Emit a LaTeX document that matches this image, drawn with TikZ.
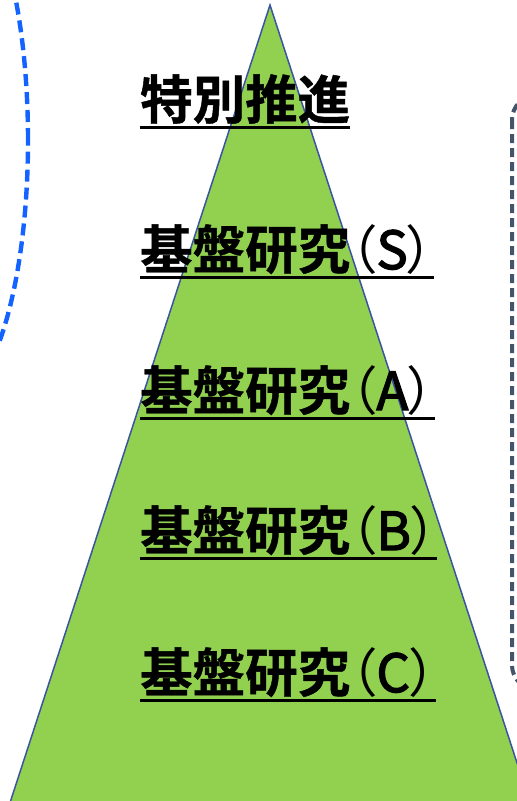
\documentclass[tikz,border=0pt]{standalone}
\usepackage{fontspec}
\newfontfamily\cjk{Noto Sans CJK JP}[BoldFont={Noto Sans CJK JP Bold}, BoldFeatures={FakeBold=0.8}, RawFeature=+palt]
\newfontfamily\cjkm{Noto Sans CJK JP}[FakeBold=2.5, RawFeature=+palt]
\newfontfamily\cjkr{Noto Sans CJK JP}[RawFeature=+palt]
\definecolor{trifill}{HTML}{92D050}
\definecolor{triline}{HTML}{3A54A0}
\definecolor{leftarc}{HTML}{1462FF}
\definecolor{rightarc}{HTML}{44546A}
\newcommand{\paren}[1]{{\cjkr\mdseries （}{\cjkm\mdseries #1}{\cjkr\mdseries ）}}
\tikzset{
  lbl/.style={anchor=base west, inner sep=0pt, font=\cjk\bfseries\fontsize{52.5pt}{52.5pt}\selectfont, text=black},
  ul/.style={line width=3pt, black},
}
\begin{document}
\begin{tikzpicture}[x=1pt,y=-1pt]
\useasboundingbox (0,0) rectangle (517,801);
\clip (0,0) rectangle (517,801);
% triangle
\draw[fill=trifill, draw=triline, line width=1.5pt] (270,5) -- (534,815) -- (6,815) -- cycle;
% left dashed arc
\draw[leftarc, line width=4.4pt, dash pattern=on 12pt off 6pt] (-49.6,140) ellipse [x radius=77.6pt, y radius=260pt];
% right dashed rounded shape
\draw[rightarc, line width=4pt, dash pattern=on 9pt off 5pt, rounded corners=25pt] (512,95) rectangle (640,690);
% labels
\node[lbl] (t1) at (140,119) {特別推進};
\node[lbl] (t2) at (140,269) {基盤研究\paren{S}};
\node[lbl] (t3) at (140,410) {基盤研究\paren{A}};
\node[lbl] (t4) at (140,550) {基盤研究\paren{B}};
\node[lbl] (t5) at (140,692) {基盤研究\paren{C}\hspace{8pt}};
\foreach \n in {t1,t2,t3,t4,t5}
  \draw[ul] ([yshift=-8pt]\n.base west) -- ([yshift=-8pt]\n.base east);
\end{tikzpicture}
\end{document}
